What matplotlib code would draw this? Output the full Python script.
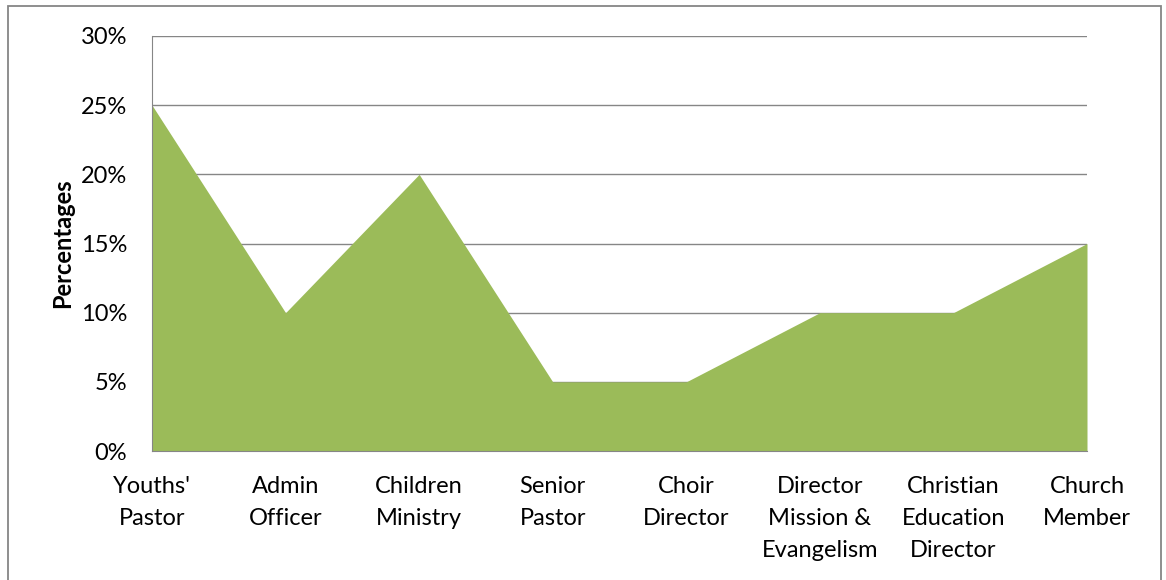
import matplotlib
matplotlib.use("Agg")
import matplotlib.pyplot as plt
from matplotlib.patches import Rectangle
from matplotlib.ticker import FuncFormatter

# Данные диаграммы
categories = ["Youths'\nPastor", "Admin\nOfficer", "Children\nMinistry", "Senior\nPastor",
              "Choir\nDirector", "Director\nMission &\nEvangelism", "Christian\nEducation\nDirector",
              "Church\nMember"]
percentages = [25, 10, 20, 5, 5, 10, 10, 15]
y_ticks = [0, 5, 10, 15, 20, 25, 30]

plt.rcParams['font.family'] = ['Lato', 'DejaVu Sans']

fig = plt.figure(figsize=(11.66, 5.80), dpi=100)
ax = fig.add_axes([152 / 1166, 1 - 451 / 580, (1087 - 152) / 1166, (451 - 36) / 580])

x = list(range(len(categories)))
ax.fill_between(x, percentages, 0, color='#9BBB59', linewidth=0, zorder=2)

ax.set_xlim(0, len(categories) - 1)
ax.set_ylim(0, 30)
ax.set_yticks(y_ticks)
ax.yaxis.set_major_formatter(FuncFormatter(lambda v, p: f"{v:.0f}%"))
ax.set_xticks(x)
ax.set_xticklabels(categories, fontsize=17, va='top', linespacing=1.64)
ax.tick_params(axis='y', labelsize=17, length=0, pad=18)
ax.tick_params(axis='x', length=0, pad=18)

ax.grid(axis='y', color='#868686', linewidth=1.0, zorder=1)
for side in ['top', 'right']:
    ax.spines[side].set_visible(False)
ax.spines['left'].set_color('#868686')
ax.spines['bottom'].set_color('#868686')
ax.spines['left'].set_zorder(3)
ax.spines['bottom'].set_zorder(3)

ax.set_ylabel("Percentages", fontsize=17, fontweight='bold')
ax.yaxis.set_label_coords(-78 / 935, 0.5)

# рамка вокруг всей диаграммы
fig.patches.append(Rectangle((8 / 1166, -0.05), (1161 - 8) / 1166, 1.05 - 6 / 580,
                             transform=fig.transFigure, fill=False, edgecolor='#868686',
                             linewidth=1.3))

fig.savefig("out.png", dpi=100)
